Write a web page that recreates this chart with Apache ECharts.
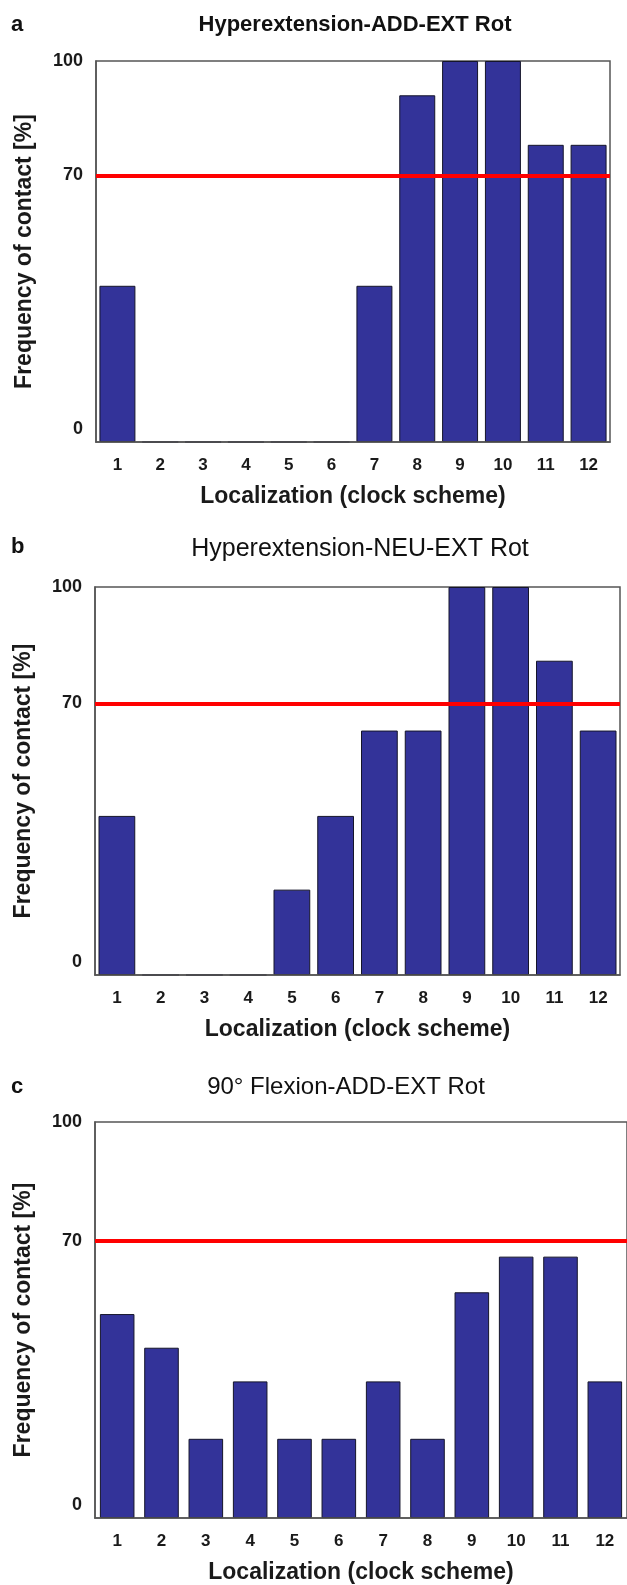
<!DOCTYPE html>
<html>
<head>
<meta charset="utf-8">
<script src="https://cdn.jsdelivr.net/npm/echarts@6/dist/echarts.min.js"></script>
<style>
html,body{margin:0;padding:0;background:#fff;}
#chart{width:627px;height:1585px;}
</style>
</head>
<body>
<div id="chart"></div>
<script>
// ---- data ----
const categories = ['1','2','3','4','5','6','7','8','9','10','11','12'];
const panelLetters = ['a','b','c'];
const panelTitles = ['Hyperextension-ADD-EXT Rot','Hyperextension-NEU-EXT Rot','90° Flexion-ADD-EXT Rot'];
const valuesA = [41, 0, 0, 0, 0, 0, 41, 91, 100, 100, 78, 78];
const valuesB = [41, 0, 0, 0, 22, 41, 63, 63, 100, 100, 81, 63];
const valuesC = [51.5, 43, 20, 34.5, 20, 20, 34.5, 20, 57, 66, 66, 34.5];
const yTicks = [0, 70, 100];
const threshold = 70;
const xAxisTitle = 'Localization (clock scheme)';
const yAxisTitle = 'Frequency of contact [%]';

// ---- layout / style ----
const FONT = '"Liberation Sans", Arial, Helvetica, sans-serif';
const grids = [
  {left: 96, top: 61, width: 514, height: 381},
  {left: 95, top: 587, width: 525, height: 388},
  {left: 95, top: 1122, width: 540, height: 396}
];
const gaps = ['16%', '16%', '22%'];
const titleStyles = [
  {x: 355, y: 25, weight: 'bold', size: 22, ly: 24.5},
  {x: 360, y: 549, weight: 'normal', size: 25, ly: 547},
  {x: 346, y: 1087, weight: 'normal', size: 24, ly: 1086.5}
];
const seriesValues = [valuesA, valuesB, valuesC];

const chart = echarts.init(document.getElementById('chart'), null, {renderer: 'canvas'});

const option = {
  animation: false,
  backgroundColor: '#ffffff',
  grid: grids.map(g => Object.assign({show: true, borderColor: '#555', borderWidth: 1.5, backgroundColor: 'transparent', containLabel: false}, g)),
  xAxis: grids.map((g, i) => ({
    type: 'category',
    gridIndex: i,
    z: 5,
    data: categories,
    axisTick: {show: false},
    axisLine: {show: true, lineStyle: {color: '#555', width: 1.5}},
    axisLabel: {color: '#1a1a1a', fontFamily: FONT, fontWeight: 'bold', fontSize: 17, margin: 15, interval: 0},
    splitLine: {show: false},
    name: xAxisTitle,
    nameLocation: 'middle',
    nameGap: 43,
    nameTextStyle: {color: '#1a1a1a', fontFamily: FONT, fontWeight: 'bold', fontSize: 23}
  })),
  yAxis: grids.map((g, i) => ({
    type: 'value',
    gridIndex: i,
    min: 0,
    max: 100,
    axisTick: {show: false},
    splitLine: {show: false},
    axisLine: {show: true, lineStyle: {color: '#555', width: 1.5}},
    axisLabel: {
      customValues: yTicks,
      color: '#1a1a1a', fontFamily: FONT, fontWeight: 'bold', fontSize: 18, margin: 13,
      formatter: v => v === 0 ? '{z|0}' : String(v),
      rich: {z: {color: '#1a1a1a', fontFamily: FONT, fontWeight: 'bold', fontSize: 18, padding: [0, 0, 26, 0]}}
    },
    name: yAxisTitle,
    nameLocation: 'middle',
    nameRotate: 90,
    nameGap: 60,
    nameTextStyle: {color: '#1a1a1a', fontFamily: FONT, fontWeight: 'bold', fontSize: 23}
  })),
  series: seriesValues.map((vals, i) => ({
    type: 'bar',
    xAxisIndex: i,
    yAxisIndex: i,
    data: vals,
    barCategoryGap: gaps[i],
    itemStyle: {color: '#333399', borderColor: '#15152a', borderWidth: 1},
    markLine: {
      silent: true,
      symbol: 'none',
      label: {show: false},
      lineStyle: {color: '#ff0000', width: 4, type: 'solid'},
      data: [{yAxis: threshold}]
    }
  })),
  graphic: panelLetters.map((l, i) => ({
    type: 'text',
    style: {text: l, x: 11, y: titleStyles[i].ly, textVerticalAlign: 'middle', font: 'bold 22px ' + FONT, fill: '#111'}
  })).concat(panelTitles.map((t, i) => ({
    type: 'text',
    style: {text: t, x: titleStyles[i].x, y: titleStyles[i].y, textAlign: 'center', textVerticalAlign: 'middle',
      font: titleStyles[i].weight + ' ' + titleStyles[i].size + 'px ' + FONT, fill: '#111'}
  })))
};
chart.setOption(option);
</script>
</body>
</html>
